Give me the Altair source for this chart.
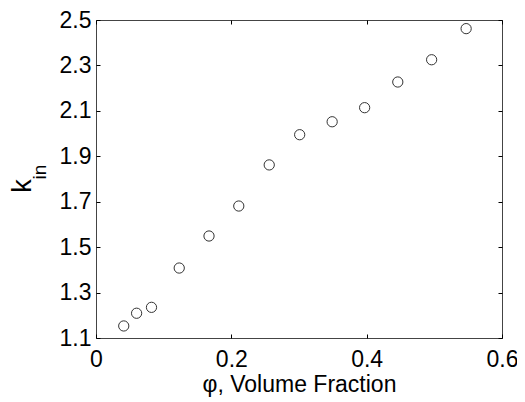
import altair as alt
import pandas as pd

# data
phi = [0.041, 0.060, 0.082, 0.123, 0.167, 0.211, 0.256, 0.301, 0.349, 0.397, 0.446, 0.496, 0.547]
k_in = [1.153, 1.209, 1.235, 1.408, 1.549, 1.681, 1.862, 1.995, 2.052, 2.114, 2.227, 2.325, 2.462]
x_ticks = [0, 0.2, 0.4, 0.6]
y_ticks = [1.1, 1.3, 1.5, 1.7, 1.9, 2.1, 2.3, 2.5]
x_title = "\u03c6, Volume Fraction"
y_title_main = ["k"]
y_title_sub = ["in"]

df = pd.DataFrame({"phi": phi, "k": k_in})

FONT = "Liberation Sans"
xs = alt.Scale(domain=[0, 0.6], nice=False, zero=False)
ys = alt.Scale(domain=[1.1, 2.5], nice=False, zero=False)

points = alt.Chart(df).mark_point(
    shape="circle", filled=False, size=105, stroke="#333333", strokeWidth=1, opacity=1
).encode(
    x=alt.X("phi:Q", scale=xs, axis=alt.Axis(
        orient="bottom", values=x_ticks, format="~g", title=x_title,
        offset=-4, tickSize=4, labelPadding=10, domain=False, grid=False,
        tickColor="#000000", labelFont=FONT, labelFontSize=23, labelColor="#000000",
        titleFont=FONT, titleFontSize=23, titleFontWeight="normal", titleColor="#000000",
        titlePadding=2, labelFlush=False)),
    y=alt.Y("k:Q", scale=ys, axis=alt.Axis(
        orient="left", values=y_ticks, format=".1f", title=None,
        offset=-4, tickSize=4, labelPadding=5, domain=False, grid=False,
        tickColor="#000000", labelFont=FONT, labelFontSize=23, labelColor="#000000",
        labelFlush=False)),
)

box_axes = alt.Chart(df).mark_point(opacity=0).encode(
    x=alt.X("phi:Q", scale=xs, axis=alt.Axis(
        orient="top", values=x_ticks, labels=False, title=None,
        offset=-4, tickSize=4, domain=False, grid=False, tickColor="#000000")),
    y=alt.Y("k:Q", scale=ys, axis=alt.Axis(
        orient="right", values=y_ticks, labels=False, title=None,
        offset=-4, tickSize=4, domain=False, grid=False, tickColor="#000000")),
)

k_text = alt.Chart(pd.DataFrame({"t": y_title_main})).mark_text(
    angle=270, align="center", baseline="alphabetic", font=FONT, fontSize=27, color="#000000"
).encode(text="t:N", x=alt.value(-65), y=alt.value(166))

in_text = alt.Chart(pd.DataFrame({"t": y_title_sub})).mark_text(
    angle=270, align="center", baseline="alphabetic", font=FONT, fontSize=19, color="#000000"
).encode(text="t:N", x=alt.value(-50), y=alt.value(152))

chart = alt.layer(points, box_axes, k_text, in_text).resolve_axis(
    x="independent", y="independent"
).properties(
    width=406, height=318,
    autosize=alt.AutoSizeParams(type="none"),
    padding={"left": 88, "top": 12, "right": 15, "bottom": 62},
    background="white",
).configure_view(stroke="#444444", strokeWidth=1)

chart.save("out.html", embed_options={"renderer": "svg", "actions": False})
